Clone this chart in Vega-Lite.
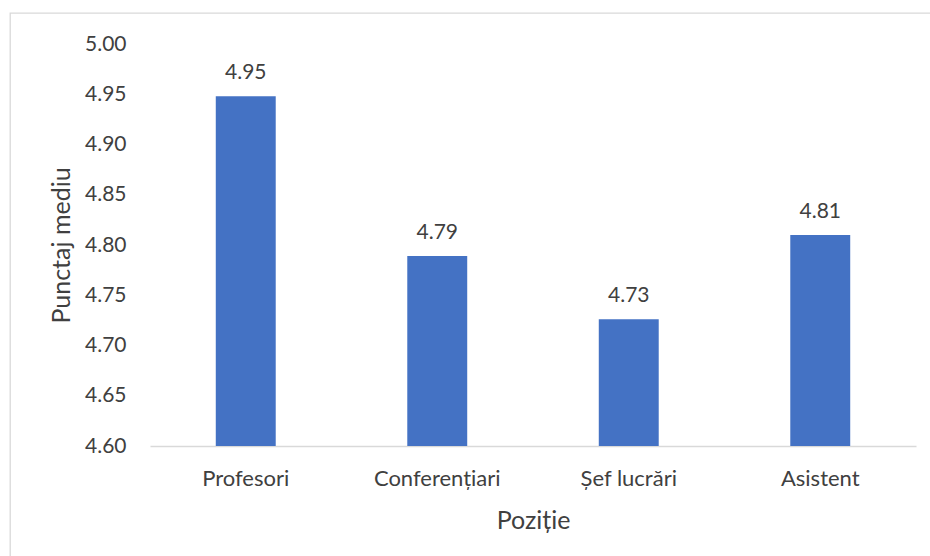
{
  "$schema": "https://vega.github.io/schema/vega-lite/v6.json",
  "autosize": {"type": "none"},
  "padding": {"left": 10, "top": 13, "right": 0, "bottom": 0},
  "width": 960,
  "height": 580,
  "background": "white",
  "config": {
    "view": {"stroke": "#d9d9d9", "strokeWidth": 1.3},
    "font": "Lato",
    "text": {"font": "Lato"}
  },
  "data": {
    "values": [
      {"pozitie": "Profesori", "punctaj": 4.948},
      {"pozitie": "Conferențiari", "punctaj": 4.789},
      {"pozitie": "Șef lucrări", "punctaj": 4.726},
      {"pozitie": "Asistent", "punctaj": 4.81}
    ]
  },
  "encoding": {
    "x": {
      "field": "pozitie",
      "type": "nominal",
      "sort": null,
      "scale": {"range": [140, 906], "paddingInner": 0.687, "paddingOuter": 0.3435},
      "axis": {
        "title": "Poziție",
        "offset": -147,
        "labelAngle": 0,
        "labelFont": "Lato",
        "labelFontSize": 22,
        "labelColor": "#404040",
        "labelPadding": 22,
        "ticks": false,
        "domain": true,
        "domainColor": "#d9d9d9",
        "domainWidth": 1.3,
        "titleFont": "Lato",
        "titleFontSize": 25,
        "titleFontWeight": "normal",
        "titleColor": "#404040",
        "titleX": 523,
        "titleY": 74,
        "titleBaseline": "middle"
      }
    },
    "y": {
      "field": "punctaj",
      "type": "quantitative",
      "scale": {"domain": [4.6, 5.0], "range": [433, 31], "zero": false, "nice": false},
      "axis": {
        "title": "Punctaj mediu",
        "offset": -140,
        "values": [4.6, 4.65, 4.7, 4.75, 4.8, 4.85, 4.9, 4.95, 5.0],
        "format": ".2f",
        "grid": false,
        "ticks": false,
        "domain": false,
        "labelFont": "Lato",
        "labelFontSize": 21,
        "labelColor": "#404040",
        "labelPadding": 24,
        "titleFont": "Lato",
        "titleFontSize": 25,
        "titleFontWeight": "normal",
        "titleColor": "#404040",
        "titleX": -89,
        "titleY": 232,
        "titleBaseline": "middle"
      }
    }
  },
  "layer": [
    {
      "mark": {"type": "bar", "color": "#4472C4"},
      "encoding": {"y2": {"datum": 4.6}}
    },
    {
      "mark": {"type": "text", "baseline": "alphabetic", "dy": -17, "fontSize": 21, "color": "#404040", "font": "Lato"},
      "encoding": {"text": {"field": "punctaj", "type": "quantitative", "format": ".2f"}}
    }
  ]
}
